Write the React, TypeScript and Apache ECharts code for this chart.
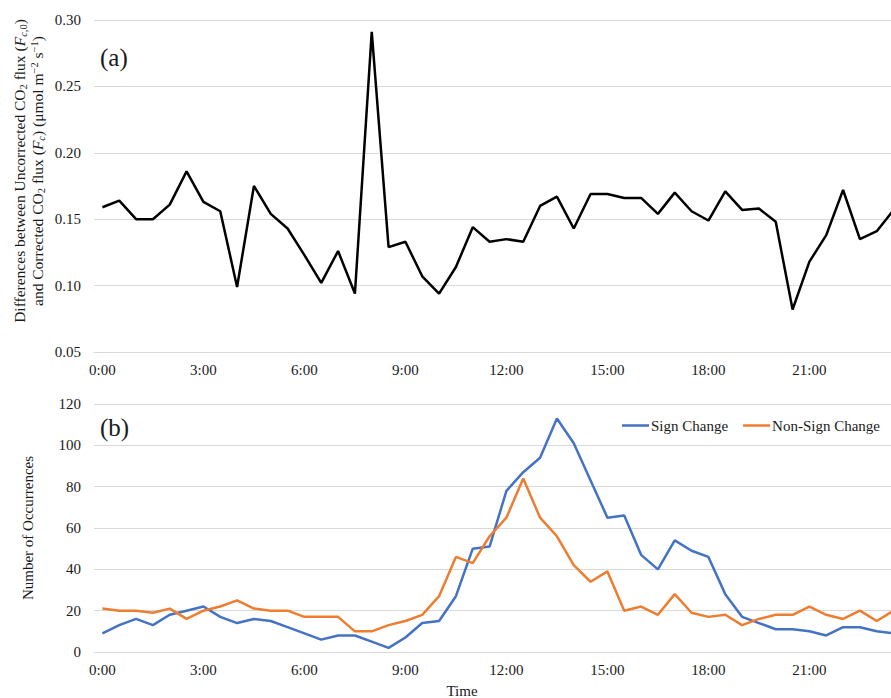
import React, { useEffect, useRef } from "react";
import * as echarts from "echarts";

const times = [
  "0:00", "0:30", "1:00", "1:30", "2:00", "2:30", "3:00", "3:30",
  "4:00", "4:30", "5:00", "5:30", "6:00", "6:30", "7:00", "7:30",
  "8:00", "8:30", "9:00", "9:30", "10:00", "10:30", "11:00", "11:30",
  "12:00", "12:30", "13:00", "13:30", "14:00", "14:30", "15:00", "15:30",
  "16:00", "16:30", "17:00", "17:30", "18:00", "18:30", "19:00", "19:30",
  "20:00", "20:30", "21:00", "21:30", "22:00", "22:30", "23:00", "23:30",
];

const fluxDifference = [
  0.159, 0.164, 0.150, 0.150, 0.161, 0.186, 0.163, 0.156,
  0.099, 0.175, 0.154, 0.143, 0.123, 0.102, 0.126, 0.094,
  0.291, 0.129, 0.133, 0.107, 0.094, 0.114, 0.144, 0.133,
  0.135, 0.133, 0.160, 0.167, 0.143, 0.169, 0.169, 0.166,
  0.166, 0.154, 0.170, 0.156, 0.149, 0.171, 0.157, 0.158,
  0.148, 0.082, 0.118, 0.138, 0.172, 0.135, 0.141, 0.157,
];

const signChange = [
  9, 13, 16, 13, 18, 20, 22, 17,
  14, 16, 15, 12, 9, 6, 8, 8,
  5, 2, 7, 14, 15, 27, 50, 51,
  78, 87, 94, 113, 101, 83, 65, 66,
  47, 40, 54, 49, 46, 28, 17, 14,
  11, 11, 10, 8, 12, 12, 10, 9,
];

const nonSignChange = [
  21, 20, 20, 19, 21, 16, 20, 22,
  25, 21, 20, 20, 17, 17, 17, 10,
  10, 13, 15, 18, 27, 46, 43, 56,
  65, 84, 65, 56, 42, 34, 39, 20,
  22, 18, 28, 19, 17, 18, 13, 16,
  18, 18, 22, 18, 16, 20, 15, 20,
];

const topTicks = { min: 0.05, max: 0.3, interval: 0.05 };
const bottomTicks = { min: 0, max: 120, interval: 20 };

const FONT = "'Liberation Serif', 'Times New Roman', serif";
const TEXT = "#1a1a1a";
const GRID = "#d9d9d9";

export default function App() {
  const ref = useRef<HTMLDivElement>(null);

  useEffect(() => {
    if (!ref.current) return;
    const chart = echarts.init(ref.current, null, { renderer: "svg" });

    const baseRich = {
      n: { fontSize: 15.5, fontFamily: FONT, color: TEXT, lineHeight: 18 },
      it: { fontSize: 15.5, fontFamily: FONT, fontStyle: "italic", color: TEXT, lineHeight: 18 },
      sub: { fontSize: 10.5, fontFamily: FONT, color: TEXT, verticalAlign: "bottom", lineHeight: 10 },
      subit: { fontSize: 10.5, fontFamily: FONT, fontStyle: "italic", color: TEXT, verticalAlign: "bottom", lineHeight: 10 },
      sup: { fontSize: 10.5, fontFamily: FONT, color: TEXT, verticalAlign: "top", lineHeight: 10 },
    };

    const yTitle =
      "{n|Differences between Uncorrected CO}{sub|2}{n| flux (}{it|F}{subit|c}{sub|,0}{n|)}\n" +
      "{n|and Corrected CO}{sub|2}{n| flux (}{it|F}{subit|c}{n|) (μmol m}{sup|−2}{n| s}{sup|−1}{n|)}";

    const axisLabel = { fontFamily: FONT, fontSize: 15, color: TEXT };

    chart.setOption({
      animation: false,
      grid: [
        { left: 94, top: 20, right: 0, height: 332 },
        { left: 94, top: 404, right: 0, height: 248 },
      ],
      legend: {
        data: ["Sign Change", "Non-Sign Change"],
        left: 617,
        top: 413,
        icon: "rect",
        itemWidth: 27,
        itemHeight: 2.5,
        itemGap: 15,
        textStyle: { fontFamily: FONT, fontSize: 15, color: TEXT, padding: [0, 0, 0, -3] },
      },
      xAxis: [0, 1].map((i) => ({
        type: "category",
        gridIndex: i,
        data: times,
        boundaryGap: true,
        axisLine: { show: true, lineStyle: { color: GRID, width: 1 } },
        axisTick: { show: false },
        axisLabel: { ...axisLabel, interval: 5, margin: 10 },
        splitLine: { show: false },
      })),
      yAxis: [
        {
          type: "value",
          gridIndex: 0,
          ...topTicks,
          axisLine: { show: false },
          axisTick: { show: false },
          axisLabel: { ...axisLabel, margin: 13, formatter: (v: number) => v.toFixed(2) },
          splitLine: { lineStyle: { color: GRID, width: 1 } },
        },
        {
          type: "value",
          gridIndex: 1,
          ...bottomTicks,
          axisLine: { show: false },
          axisTick: { show: false },
          axisLabel: { ...axisLabel, margin: 13 },
          splitLine: { lineStyle: { color: GRID, width: 1 } },
        },
      ],
      series: [
        {
          name: "Difference",
          type: "line",
          xAxisIndex: 0,
          yAxisIndex: 0,
          data: fluxDifference,
          symbol: "none",
          lineStyle: { color: "#000000", width: 2.5 },
          itemStyle: { color: "#000000" },
        },
        {
          name: "Sign Change",
          type: "line",
          xAxisIndex: 1,
          yAxisIndex: 1,
          data: signChange,
          symbol: "none",
          lineStyle: { color: "#4472C4", width: 2.5 },
          itemStyle: { color: "#4472C4" },
        },
        {
          name: "Non-Sign Change",
          type: "line",
          xAxisIndex: 1,
          yAxisIndex: 1,
          data: nonSignChange,
          symbol: "none",
          lineStyle: { color: "#ED7D31", width: 2.5 },
          itemStyle: { color: "#ED7D31" },
        },
      ],
      graphic: [
        {
          type: "text",
          x: 28.5,
          y: 171,
          rotation: Math.PI / 2,
          style: {
            text: yTitle,
            rich: baseRich,
            fontFamily: FONT,
            fontSize: 15.5,
            fill: TEXT,
            align: "center",
            verticalAlign: "middle",
            textAlign: "center",
            textVerticalAlign: "middle",
          },
        },
        {
          type: "text",
          x: 28,
          y: 528,
          rotation: Math.PI / 2,
          style: {
            text: "Number of Occurrences",
            fontFamily: FONT,
            fontSize: 15,
            fill: TEXT,
            align: "center",
            verticalAlign: "middle",
            textAlign: "center",
            textVerticalAlign: "middle",
          },
        },
        {
          type: "text",
          x: 100,
          y: 57,
          style: {
            text: "(a)",
            fontFamily: FONT,
            fontSize: 25,
            fill: TEXT,
            align: "left",
            verticalAlign: "middle",
            textAlign: "left",
            textVerticalAlign: "middle",
          },
        },
        {
          type: "text",
          x: 100,
          y: 427,
          style: {
            text: "(b)",
            fontFamily: FONT,
            fontSize: 25,
            fill: TEXT,
            align: "left",
            verticalAlign: "middle",
            textAlign: "left",
            textVerticalAlign: "middle",
          },
        },
        {
          type: "text",
          x: 462,
          y: 691,
          style: {
            text: "Time",
            fontFamily: FONT,
            fontSize: 15,
            fill: TEXT,
            align: "center",
            verticalAlign: "middle",
            textAlign: "center",
            textVerticalAlign: "middle",
          },
        },
      ],
    });

    return () => chart.dispose();
  }, []);

  return (
    <div style={{ position: "absolute", left: 0, top: 0, width: 891, height: 698, overflow: "hidden" }}>
      <div ref={ref} style={{ width: 902, height: 698 }} />
    </div>
  );
}
